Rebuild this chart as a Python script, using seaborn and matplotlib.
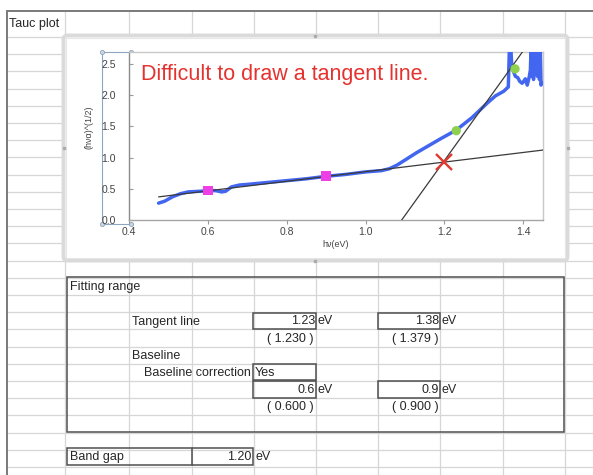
import matplotlib
matplotlib.use("Agg")
import matplotlib.pyplot as plt
from matplotlib.patches import Rectangle, FancyBboxPatch
import seaborn as sns
import numpy as np

sns.set_style("white")
plt.rcParams['font.family'] = ['Liberation Sans', 'DejaVu Sans']

# ---------------- data ----------------
hv = [0.475, 0.49, 0.51, 0.53, 0.55, 0.58, 0.60, 0.62, 0.635, 0.645, 0.66, 0.68,
      0.70, 0.75, 0.80, 0.85, 0.90, 0.95, 1.00, 1.04, 1.06, 1.08, 1.10, 1.13,
      1.16, 1.19, 1.21, 1.23, 1.25, 1.27, 1.29, 1.31, 1.33, 1.35, 1.362, 1.365,
      1.368, 1.371, 1.375, 1.380, 1.386, 1.391, 1.397, 1.401, 1.405, 1.410,
      1.415, 1.418, 1.420, 1.422, 1.424, 1.426, 1.428, 1.430, 1.433, 1.436,
      1.439, 1.441, 1.443, 1.445, 1.447]
tauc = [0.27, 0.30, 0.37, 0.42, 0.45, 0.46, 0.47, 0.47, 0.45, 0.46, 0.53, 0.56,
        0.57, 0.60, 0.63, 0.66, 0.70, 0.73, 0.77, 0.79, 0.82, 0.88, 0.96, 1.08,
        1.19, 1.30, 1.37, 1.44, 1.54, 1.64, 1.76, 1.88, 1.99, 2.06, 2.13, 2.80,
        2.80, 2.45, 2.38, 2.30, 2.28, 2.22, 2.19, 2.22, 2.26, 2.16,
        2.29, 2.40, 2.80, 2.30, 2.80, 2.25, 2.80, 2.35, 2.80, 2.30,
        2.80, 2.25, 2.80, 2.16, 2.20]

baseline_pts_x = [0.6, 0.9]
baseline_pts_y = [0.475, 0.705]
tangent_pts_x = [1.23, 1.379]
tangent_pts_y = [1.43, 2.42]
baseline_line_x = [0.475, 1.45]
baseline_line_y = [0.37, 1.12]
tangent_line_x = [1.07, 1.40]
tangent_line_y = [-0.19, 2.71]
gap_x = [1.198]
gap_y = [0.934]

x_ticks = [0.4, 0.6, 0.8, 1.0, 1.2, 1.4]
y_ticks = [0.0, 0.5, 1.0, 1.5, 2.0, 2.5]

# ---------------- figure ----------------
W, H = 593, 475
fig = plt.figure(figsize=(W / 100, H / 100), dpi=100)
fig.patch.set_facecolor('white')

bg = fig.add_axes([0, 0, 1, 1])
bg.set_xlim(0, W)
bg.set_ylim(H, 0)
bg.axis('off')

grid_c = '#d6d6d6'
cols = [65, 129, 192, 254, 316, 378, 440, 503, 565]
for x in cols:
    bg.plot([x, x], [11, H], color=grid_c, lw=0.9, zorder=1)
y = 37.0
while y < H:
    bg.plot([7, W], [y, y], color=grid_c, lw=0.9, zorder=1)
    y += 17.2
bg.plot([7, W], [11, 11], color='#7a7a7a', lw=1.4, zorder=2)
bg.plot([7, 7], [11, H], color='#7a7a7a', lw=1.4, zorder=2)

# chart frame
frame = FancyBboxPatch((63.5, 35.5), 504, 225, boxstyle="round,pad=0,rounding_size=4",
                       facecolor='white', edgecolor='#dadada', lw=2.8, zorder=3)
bg.add_patch(frame)
inner = Rectangle((66, 38), 499, 220, fill=False, edgecolor='#e6e6e6', lw=0.8, zorder=3)
bg.add_patch(inner)
for (hx, hy) in [(315, 35.5), (315, 260.5), (63.5, 148), (567.5, 148)]:
    bg.plot([hx], [hy], marker='s', ms=2, color='#ababab', zorder=4)

# selection box around y tick labels
sel_c = '#8fa4bd'
bg.plot([101.5, 131], [52, 52], color=sel_c, lw=0.8, zorder=4)
bg.plot([101.5, 131], [224, 224], color=sel_c, lw=0.8, zorder=4)
bg.plot([101.5, 101.5], [52, 224], color=sel_c, lw=0.8, zorder=4)
for (cx, cy) in [(101.5, 52), (131, 52), (101.5, 224), (131, 224)]:
    bg.plot([cx], [cy], marker='o', ms=3, mfc='#c9d5e3', mec=sel_c, mew=0.6, zorder=5)

txt_c = '#262626'
fs = 9
def t(x, y, s, ha='left', **kw):
    bg.text(x, y, s, ha=ha, va='center', fontsize=fs, color=txt_c, zorder=6, **kw)

t(9, 24, 'Tauc plot')

box_c = '#4f4f4f'
bg.add_patch(Rectangle((67, 277), 497, 155, fill=False, edgecolor=box_c, lw=1.1, zorder=5))
for (bx, by, bw, bh) in [(253, 313, 63, 16), (378, 313, 62, 16), (253, 364, 63, 16),
                         (253, 381, 63, 17), (378, 381, 62, 17)]:
    bg.add_patch(Rectangle((bx, by), bw, bh, fill=False, edgecolor=box_c, lw=1.1, zorder=5))
bg.add_patch(Rectangle((67, 448), 186, 17, fill=False, edgecolor=box_c, lw=1.1, zorder=5))
bg.plot([192, 192], [448, 465], color=box_c, lw=1.1, zorder=5)

t(70, 287, 'Fitting range')
t(132, 322, 'Tangent line')
t(315, 321, '1.23', ha='right'); t(318, 321, 'eV')
t(439, 321, '1.38', ha='right'); t(442, 321, 'eV')
t(290, 339, '( 1.230 )', ha='center')
t(415, 339, '( 1.379 )', ha='center')
t(132, 356, 'Baseline')
t(144, 373, 'Baseline correction')
t(255, 373, 'Yes')
t(315, 390, '0.6', ha='right'); t(318, 390, 'eV')
t(439, 390, '0.9', ha='right'); t(442, 390, 'eV')
t(290, 407, '( 0.600 )', ha='center')
t(415, 407, '( 0.900 )', ha='center')
t(70, 457, 'Band gap')
t(251, 457, '1.20', ha='right'); t(256, 457, 'eV')

# ---------------- chart ----------------
L, R, T, B = 129, 543, 52, 220
ax = fig.add_axes([L / W, (H - B) / H, (R - L) / W, (B - T) / H])
ax.set_facecolor('white')

sns.lineplot(x=hv, y=tauc, ax=ax, sort=False, estimator=None, color='#4266ef',
             lw=2.5, zorder=3)
sns.lineplot(x=baseline_line_x, y=baseline_line_y, ax=ax, sort=False, estimator=None,
             color='#3a3a3a', lw=0.9, zorder=4)
sns.lineplot(x=tangent_line_x, y=tangent_line_y, ax=ax, sort=False, estimator=None,
             color='#3a3a3a', lw=0.9, zorder=4)
sns.scatterplot(x=baseline_pts_x, y=baseline_pts_y, ax=ax, marker='s', s=45,
                color='#ee3ee6', edgecolor='none', zorder=5)
sns.scatterplot(x=tangent_pts_x, y=tangent_pts_y, ax=ax, marker='o', s=45,
                color='#8fd14f', edgecolor='none', zorder=5)
ax.plot(gap_x, gap_y, marker='x', ms=11, mew=1.7, color='#e0392f', ls='none', zorder=6)

ax.set_xlim(0.4, 1.45)
ax.set_ylim(0, 2.69)
ax.set_xticks(x_ticks)
ax.set_yticks(y_ticks)
ax.set_xticklabels([f'{v:.1f}' for v in x_ticks])
ax.set_yticklabels([f'{v:.1f}' for v in y_ticks])
ax.tick_params(axis='x', direction='out', length=3, width=0.8, color='#9a9a9a',
               labelsize=7.5, labelcolor='#444444', pad=2)
ax.tick_params(axis='y', direction='in', length=3, width=0.8, color='#9a9a9a',
               labelsize=7.5, labelcolor='#444444', pad=20)
for lbl in ax.get_yticklabels():
    lbl.set_horizontalalignment('left')
ax.tick_params(left=True, bottom=True)

for side, c in [('left', '#8a8a8a'), ('bottom', '#a5a5a5'), ('top', '#c8c8c8'), ('right', '#c8c8c8')]:
    ax.spines[side].set_visible(True)
    ax.spines[side].set_color(c)
    ax.spines[side].set_linewidth(1.0)

ax.set_xlabel('hν(eV)', fontsize=6.5, color='#444444', labelpad=2)
ax.set_ylabel('(hνα)^(1/2)', fontsize=6.5, color='#444444', labelpad=5)
ax.yaxis.set_label_coords(-0.085, 0.55)

ax.text(0.028, 0.865, 'Difficult to draw a tangent line.', transform=ax.transAxes,
        fontsize=15.5, color='#e6322e', ha='left', va='center')

fig.savefig('out.png', dpi=100, facecolor='white')
